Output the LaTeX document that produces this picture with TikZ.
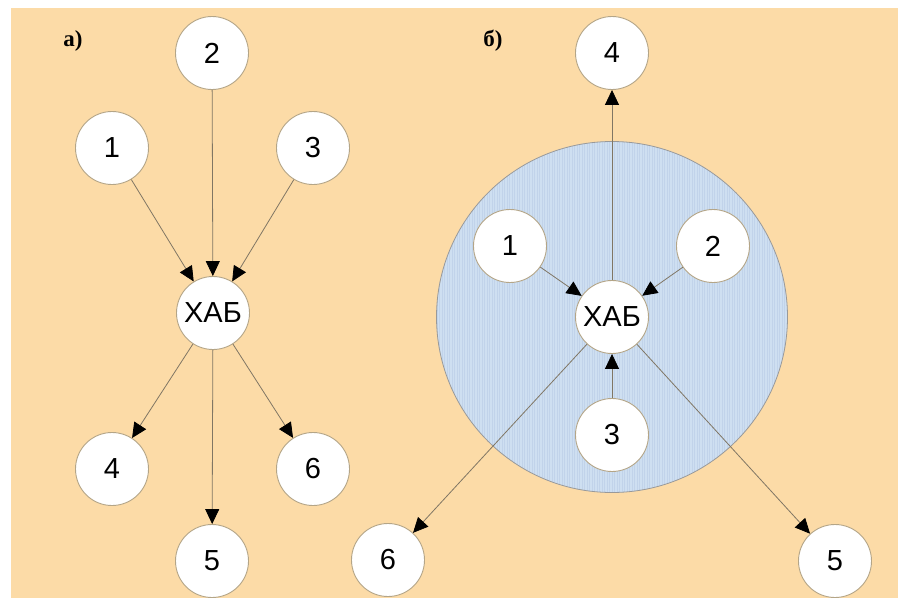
\documentclass[tikz,border=0pt]{standalone}
\usepackage{fontspec}
\setmainfont{Liberation Sans}
\newfontfamily\labelfont{Liberation Serif}
\usetikzlibrary{arrows.meta}
\definecolor{paper}{RGB}{252,219,167}
\definecolor{ringfill}{RGB}{206,223,241}
\definecolor{ringline}{RGB}{193,211,234}
\definecolor{edgecol}{RGB}{128,118,100}
\definecolor{nodeborder}{RGB}{180,165,135}
\tikzset{
  station/.style={circle, draw=nodeborder, line width=0.9pt, fill=white,
    minimum size=73pt, inner sep=0pt, font=\fontsize{29}{29}\selectfont},
  link/.style={draw=edgecol, line width=0.8pt,
    -{Triangle[length=15pt,width=14pt,color=black]}},
  panel/.style={font=\labelfont\bfseries\fontsize{23}{23}\selectfont}
}
\begin{document}
\begin{tikzpicture}[x=1pt,y=-1pt]
\useasboundingbox (0,0) rectangle (898,598);
\fill[white] (0,0) rectangle (898,598);
\fill[paper] (11,8) rectangle (898,598);

% panel labels
\node[panel] (la) at (73,41) {а)};
\node[panel] (lb) at (493,41) {б)};

% ---------- panel a: star around the hub ----------
\node[station] (a2) at (212,53) {2};
\node[station] (a1) at (112,148) {1};
\node[station] (a3) at (313,148) {3};
\node[station] (ah) at (213,313) {ХАБ};
\node[station] (a4) at (112,469) {4};
\node[station] (a6) at (313,469) {6};
\node[station] (a5) at (212,561) {5};

\draw[link] (a1) -- (ah);
\draw[link] (a2) -- (ah);
\draw[link] (a3) -- (ah);
\draw[link] (ah) -- (a4);
\draw[link] (ah) -- (a5);
\draw[link] (ah) -- (a6);

% ---------- panel b: hub inside a shaded zone ----------
\begin{scope}
  \clip (612,317) circle (175.5);
  \fill[ringfill] (436,141) rectangle (788,493);
  \foreach \i in {0,...,140} {
    \draw[ringline, line width=0.5pt] (437+2.5*\i,141) -- (437+2.5*\i,493);
  }
\end{scope}
\draw[gray!80, line width=0.8pt] (612,317) circle (175.5);

\node[station] (b4) at (612,53) {4};
\node[station] (b1) at (510,246) {1};
\node[station] (b2) at (713,246) {2};
\node[station] (bh) at (612,317) {ХАБ};
\node[station] (b3) at (612,435) {3};
\node[station] (b6) at (388,560) {6};
\node[station] (b5) at (835,561) {5};

\draw[link] (bh) -- (b4);
\draw[link] (b1) -- (bh);
\draw[link] (b2) -- (bh);
\draw[link] (b3) -- (bh);
\draw[link] (bh) -- (b6);
\draw[link] (bh) -- (b5);
\end{tikzpicture}
\end{document}
